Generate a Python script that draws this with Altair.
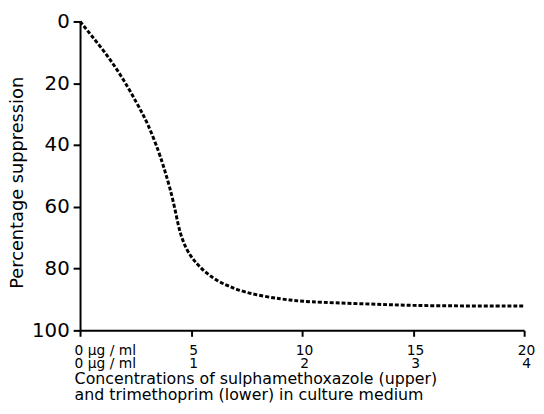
import altair as alt
import pandas as pd

# sulphamethoxazole concentration (µg/ml); trimethoprim = sulpha / 5
sulpha = [0, 1.0, 1.8, 2.55, 3.07, 3.58, 3.81, 4.03, 4.25, 4.42, 4.6, 4.86, 5.29, 6.03, 7.36, 9.14, 10.2, 12.8, 15.0, 17.5, 20.0]
suppression = [0, 8.8, 16.8, 26.3, 33.2, 42.8, 48.1, 53.4, 59.8, 66.0, 70.6, 74.8, 78.9, 83.7, 87.9, 90.0, 90.8, 91.4, 92.0, 92.1, 92.1]

x_ticks = [0, 5, 10, 15, 20]
y_ticks = [0, 20, 40, 60, 80, 100]
x_title = ["Concentrations of sulphamethoxazole (upper)",
           "and trimethoprim (lower) in culture medium"]
y_title = "Percentage suppression"

df = pd.DataFrame({"sulpha": sulpha, "supp": suppression})

FONT = "DejaVu Sans"

line = alt.Chart(df).mark_line(
    color="black", strokeWidth=3, strokeDash=[4, 2], interpolate="basis"
).encode(
    x=alt.X("sulpha:Q",
            scale=alt.Scale(domain=[0, 20], nice=False, zero=False),
            axis=alt.Axis(
                values=x_ticks, title=x_title, grid=False,
                labelExpr="datum.value == 0 ? ['0  µg / ml', '0  µg / ml'] : [datum.label, format(datum.value / 5, 'd')]",
                labelAlign={"condition": {"test": "datum.value == 0", "value": "left"}, "value": "center"},
                labelOffset={"condition": {"test": "datum.value == 0", "value": -6}, "value": 2},
                labelFont=FONT, labelFontSize=14, labelLineHeight=14, labelPadding=7,
                labelOverlap=False, labelBound=False, labelFlush=False,
                labelColor="black",
                tickSize=6, tickWidth=2, tickColor="black",
                domainColor="black", domainWidth=2,
                titleFont=FONT, titleFontSize=16, titleFontWeight="normal",
                titleAlign="left", titleAnchor="start", titleBaseline="top",
                titleX=-6, titleY=41, titleLineHeight=16, titleColor="black",
            )),
    y=alt.Y("supp:Q",
            scale=alt.Scale(domain=[0, 100], reverse=True, nice=False),
            axis=alt.Axis(
                values=y_ticks, title=y_title, grid=False,
                labelFont=FONT, labelFontSize=20, labelPadding=4,
                labelColor="black", labelOverlap=False, labelBound=False, labelFlush=False,
                tickSize=7, tickWidth=2, tickColor="black",
                domainColor="black", domainWidth=2,
                titleFont=FONT, titleFontSize=18, titleFontWeight="normal",
                titleX=-54, titleY=163, titleColor="black",
            )),
)

chart = line.properties(
    width=450, height=313,
    autosize=alt.AutoSizeParams(type="none"),
    padding={"left": 73, "top": 11, "right": 12, "bottom": 74},
    background="white",
).configure_view(stroke=None)

chart.save("out.html", embed_options={"renderer": "svg", "actions": False})
